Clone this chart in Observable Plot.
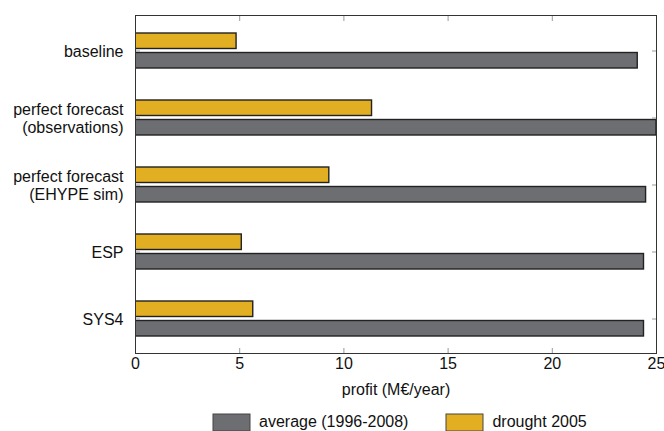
<!DOCTYPE html>
<html><head><meta charset="utf-8">
<script src="https://cdn.jsdelivr.net/npm/d3@7"></script>
<script src="https://cdn.jsdelivr.net/npm/@observablehq/plot@0.6"></script>
<style>
body{margin:0;background:#fff;font-family:"Liberation Sans",Arial,sans-serif;overflow:hidden}
#chart svg{display:block}
div.leg-swatches{font:16px "Liberation Sans",Arial,sans-serif !important;color:#111 !important;margin:13px 0 0 213px !important;min-height:0 !important}
span.leg-swatch{margin-right:38px !important}
span.leg-swatch svg{overflow:visible;margin-right:9px !important}
span.leg-swatch svg rect{stroke:#444;stroke-width:1}
</style></head><body><div id="chart"></div>
<script>
const categories = ["baseline", "perfect forecast\n(observations)", "perfect forecast\n(EHYPE sim)", "ESP", "SYS4"];
const seriesNames = ["average (1996-2008)", "drought 2005"];
const averageProfit = [24.1, 25.0, 24.5, 24.4, 24.4];
const droughtProfit = [4.85, 11.35, 9.3, 5.1, 5.65];
const xTicks = [0, 5, 10, 15, 20, 25];
const seriesColors = ["#6d6e71", "#e2ae22"];

const avgRows = categories.map((c, i) => ({category: c, series: seriesNames[0], value: averageProfit[i]}));
const drRows = categories.map((c, i) => ({category: c, series: seriesNames[1], value: droughtProfit[i]}));
const innerTicks = xTicks.slice(1, -1);

const plot = Plot.plot({
  width: 664,
  height: 400,
  marginLeft: 135,
  marginRight: 8,
  marginTop: 15,
  marginBottom: 47,
  style: {fontFamily: "'Liberation Sans', Arial, sans-serif", fontSize: "16px", color: "#111", background: "#fff"},
  x: {domain: [0, 25]},
  y: {domain: categories, paddingInner: 0.48, paddingOuter: 0.24},
  color: {domain: seriesNames, range: seriesColors},
  marks: [
    Plot.barX(drRows, {x: "value", y: "category", fill: "series", stroke: "#222", strokeWidth: 1.4, insetBottom: 19.5, clip: true}),
    Plot.barX(avgRows, {x: "value", y: "category", fill: "series", stroke: "#222", strokeWidth: 1.4, insetTop: 19.5, clip: true}),
    Plot.axisX(innerTicks, {anchor: "bottom", tickSize: -5, tickFormat: () => "", stroke: "#999", label: null}),
    Plot.axisX(innerTicks, {anchor: "top", tickSize: -5, tickFormat: () => "", stroke: "#999", label: null}),
    Plot.axisX(xTicks, {anchor: "bottom", tickSize: 0, tickPadding: 4, label: "profit (M€/year)", labelAnchor: "center", labelArrow: "none", labelOffset: 41}),
    Plot.axisY({anchor: "left", tickSize: -5, tickFormat: () => "", stroke: "#999", label: null}),
    Plot.axisY({anchor: "right", tickSize: -5, tickFormat: () => "", stroke: "#999", label: null}),
    Plot.axisY({anchor: "left", tickSize: 0, tickPadding: 12, lineHeight: 1.12, label: null}),
    Plot.frame({stroke: "#333", strokeWidth: 1})
  ]
});
const chart = document.getElementById("chart");
chart.appendChild(plot);
chart.appendChild(plot.legend("color", {legend: "swatches", swatchWidth: 37, swatchHeight: 17, className: "leg"}));
</script></body></html>
